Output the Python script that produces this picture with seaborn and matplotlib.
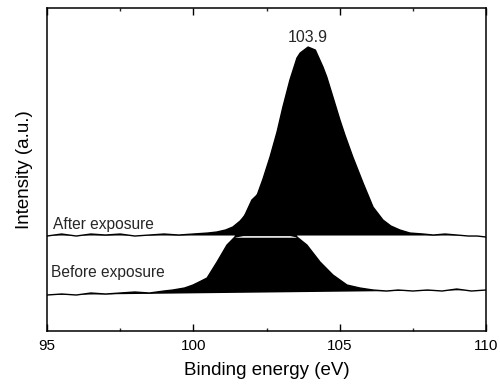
import numpy as np
import pandas as pd
import seaborn as sns
import matplotlib
matplotlib.use("Agg")
import matplotlib.pyplot as plt

# ---- data (intensity in arbitrary units) ----
after_energy = [95.0, 95.5, 96.0, 96.5, 97.0, 97.5, 98.0, 98.5, 99.0, 99.5,
                100.0, 100.5, 100.8, 101.1, 101.35, 101.6, 101.83, 102.0, 102.17,
                102.38, 102.62, 102.86, 103.06, 103.3, 103.54, 103.65, 103.92,
                104.17, 104.43, 104.56, 104.77, 105.01, 105.18, 105.45, 105.8,
                106.14, 106.48, 106.75, 107.06, 107.4, 107.85, 108.2, 108.6,
                109.0, 109.4, 109.7, 110.0]
after_int = [95, 97, 95, 97, 96, 97, 95, 96, 97, 96,
             97, 98, 99, 101, 104, 110, 118, 125, 135,
             152, 174, 199, 224, 251, 273, 278, 284,
             281, 264, 254, 234, 211, 196, 174, 148,
             124, 111, 105, 101, 98, 97, 96, 97,
             96, 95, 95, 94]

before_energy = [95.0, 95.5, 96.0, 96.5, 97.0, 97.5, 98.0, 98.5, 99.0, 99.3,
                 99.7, 99.99, 100.2, 100.47, 100.81, 101.15, 101.42, 101.7,
                 102.0, 102.25, 102.5, 102.75, 103.0, 103.3, 103.54, 103.88,
                 104.33, 104.77, 105.25, 105.69, 106.14, 106.6, 107.0, 107.5,
                 108.0, 108.5, 109.0, 109.5, 110.0]
before_int = [36, 37, 36, 38, 37, 38, 39, 38, 40, 41,
              43, 46, 49, 53, 69, 86, 94, 112,
              131, 138, 142, 140, 132, 112, 94, 86,
              69, 56, 46, 43, 41, 40, 41, 40,
              41, 40, 42, 40, 41]

after_base = 96       # level the "after" peak is filled down to
peak_label = "103.9"
series_labels = ["After exposure", "Before exposure"]
x_label = "Binding energy (eV)"
y_label = "Intensity (a.u.)"
x_ticks = [95, 100, 105, 110]

df_after = pd.DataFrame({"E": after_energy, "I": after_int})
df_before = pd.DataFrame({"E": before_energy, "I": before_int})

sns.set_theme(style="white")
plt.rcParams["font.family"] = ["Liberation Sans", "DejaVu Sans"]

fig = plt.figure(figsize=(5.0, 3.84), dpi=100)
ax = fig.add_axes([0.094, 0.138, 0.878, 0.841])

bE = np.array(before_energy, dtype=float)
bI = np.array(before_int, dtype=float)
aE = np.array(after_energy, dtype=float)
aI = np.array(after_int, dtype=float)

# before spectrum: filled between its end-to-end baseline and the curve
b_base = np.interp(bE, [bE[0], bE[-1]], [bI[0], bI[-1]])
ax.fill_between(bE, b_base, bI, where=bI >= b_base, interpolate=True,
                color="black", lw=0, zorder=1)
sns.lineplot(data=df_before, x="E", y="I", color="black", lw=1.0, ax=ax, zorder=3)

# thin white separation where the before peak crosses the after baseline
ax.fill_between(bE, after_base - 2.2, np.minimum(bI, after_base - 0.6),
                where=bI >= after_base - 2.2, interpolate=True,
                color="white", lw=0, zorder=2)

# after spectrum (filled above its baseline)
ax.fill_between(aE, after_base - 0.5, aI, where=aI >= after_base - 0.5,
                interpolate=True, color="black", lw=0, zorder=2.5)
sns.lineplot(data=df_after, x="E", y="I", color="black", lw=1.0, ax=ax, zorder=3)

# peak annotation
pk = int(np.argmax(aI))
ax.annotate(peak_label, (after_energy[pk], after_int[pk]), xytext=(0, 1.5),
            textcoords="offset points", ha="center", va="bottom", fontsize=11.5)

ax.text(95.2, after_base + 3, series_labels[0], fontsize=11.2, ha="left", va="bottom")
ax.text(95.15, 59, series_labels[1], fontsize=11.2, ha="left", va="center")

ax.set_xlim(95, 110)
ax.set_ylim(0, 323)
ax.set_xticks(x_ticks)
ax.set_xticks([97.5, 102.5, 107.5], minor=True)
ax.set_yticks([])
ax.tick_params(axis="x", which="major", direction="in", length=5, width=1,
               top=True, bottom=True, labelsize=11, pad=6, colors="black")
ax.tick_params(axis="x", which="minor", direction="in", length=2.5, width=1,
               top=True, bottom=True)
for s in ax.spines.values():
    s.set_color("black")
    s.set_linewidth(1.1)
    s.set_zorder(5)
ax.set_xlabel(x_label, fontsize=13.5, labelpad=6, color="black")
ax.set_ylabel(y_label, fontsize=13.5, labelpad=10, color="black")

fig.savefig("out.png", dpi=100, facecolor="white")
